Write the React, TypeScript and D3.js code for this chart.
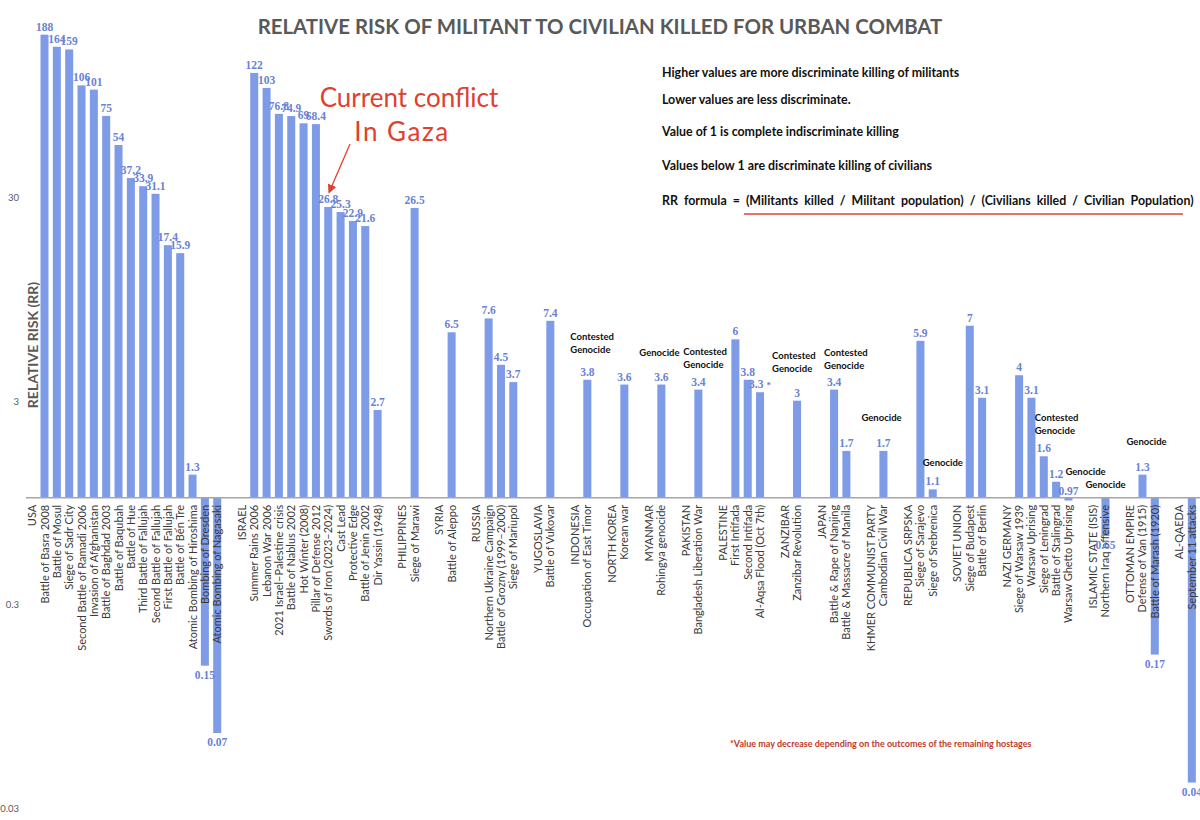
import React from 'react'
import * as d3 from 'd3'

// categories along the x axis: group headers (no bar), battles, and '' spacers
const categories = [
  'USA', 'Battle of Basra 2008', 'Battle of Mosul', 'Siege of Sadr City', 'Second Battle of Ramadi 2006',
  'Invasion of Afghanistan', 'Battle of Baghdad 2003', 'Battle of Baqubah', 'Battle of Hue',
  'Third Battle of Fallujah', 'Second Battle of Fallujah', 'First Battle of Fallujah', 'Battle of Bến Tre',
  'Atomic Bombing of Hiroshima', 'Bombing of Dresden', 'Atomic Bombing of Nagasaki',
  '',
  'ISRAEL', 'Summer Rains 2006', 'Lebanon War 2006', '2021 Israel–Palestine crisis', 'Battle of Nablus 2002',
  'Hot Winter (2008)', 'Pillar of Defense 2012', 'Swords of Iron (2023–2024)', 'Cast Lead', 'Protective Edge',
  'Battle of Jenin 2002', 'Dir Yassin (1948)',
  '',
  'PHILIPPINES', 'Siege of Marawi',
  '',
  'SYRIA', 'Battle of Aleppo',
  '',
  'RUSSIA', 'Northern Ukraine Campaign', 'Battle of Grozny (1999–2000)', 'Siege of Mariupol',
  '',
  'YUGOSLAVIA', 'Battle of Vukovar',
  '',
  'INDONESIA', 'Occupation of East Timor',
  '',
  'NORTH KOREA', 'Korean war',
  '',
  'MYANMAR', 'Rohingya genocide',
  '',
  'PAKISTAN', 'Bangladesh Liberation War',
  '',
  'PALESTINE', 'First Intifada', 'Second Intifada', 'Al-Aqsa Flood (Oct 7th)',
  '',
  'ZANZIBAR', 'Zanzibar Revolution',
  '',
  'JAPAN', 'Battle & Rape of Nanjing', 'Battle & Massacre of Manila',
  '',
  'KHMER COMMUNIST PARTY', 'Cambodian Civil War',
  '',
  'REPUBLICA SRPSKA', 'Siege of Sarajevo', 'Siege of Srebrenica',
  '',
  'SOVIET UNION', 'Siege of Budapest', 'Battle of Berlin',
  '',
  'NAZI GERMANY', 'Siege of Warsaw 1939', 'Warsaw Uprising', 'Siege of Leningrad', 'Battle of Stalingrad',
  'Warsaw Ghetto Uprising',
  '',
  'ISLAMIC STATE (ISIS)', 'Northern Iraq offensive',
  '',
  'OTTOMAN EMPIRE', 'Defense of Van (1915)', 'Battle of Marash (1920)',
  '',
  'AL-QAEDA', 'September 11 attacks',
]

// relative risk, same order as categories (null = no bar)
const rr: (number | null)[] = [
  null, 188, 164, 159, 106, 101, 75, 54, 37.2, 33.9, 31.1, 17.4, 15.9, 1.3, 0.15, 0.07,
  null,
  null, 122, 103, 76.8, 74.9, 69, 68.4, 26.8, 25.3, 22.9, 21.6, 2.7,
  null,
  null, 26.5,
  null,
  null, 6.5,
  null,
  null, 7.6, 4.5, 3.7,
  null,
  null, 7.4,
  null,
  null, 3.8,
  null,
  null, 3.6,
  null,
  null, 3.6,
  null,
  null, 3.4,
  null,
  null, 6, 3.8, 3.3,
  null,
  null, 3,
  null,
  null, 3.4, 1.7,
  null,
  null, 1.7,
  null,
  null, 5.9, 1.1,
  null,
  null, 7, 3.1,
  null,
  null, 4, 3.1, 1.6, 1.2, 0.97,
  null,
  null, 0.65,
  null,
  null, 1.3, 0.17,
  null,
  null, 0.04,
]

const starred = ['Al-Aqsa Flood (Oct 7th)']
const yTicks = [30, 3, 0.3, 0.03]

const notes = [
  { at: 'Occupation of East Timor', lines: ['Contested', 'Genocide'], dx: -17, y: 336 },
  { at: 'Rohingya genocide', lines: ['Genocide'], dx: -22, y: 352 },
  { at: 'Bangladesh Liberation War', lines: ['Contested', 'Genocide'], dx: -15, y: 351 },
  { at: 'Zanzibar Revolution', lines: ['Contested', 'Genocide'], dx: -25, y: 355 },
  { at: 'Battle & Rape of Nanjing', lines: ['Contested', 'Genocide'], dx: -10, y: 352 },
  { at: 'Cambodian Civil War', lines: ['Genocide'], dx: -22, y: 417 },
  { at: 'Siege of Srebrenica', lines: ['Genocide'], dx: -10, y: 462 },
  { at: 'Siege of Leningrad', lines: ['Contested', 'Genocide'], dx: -9, y: 417 },
  { at: 'Warsaw Ghetto Uprising', lines: ['Genocide'], dx: -3, y: 471 },
  { at: 'Northern Iraq offensive', lines: ['Genocide'], dx: -20, y: 484 },
  { at: 'Defense of Van (1915)', lines: ['Genocide'], dx: -16, y: 441 },
]

const explain = [
  'Higher values are more discriminate killing of militants',
  'Lower values are less discriminate.',
  'Value of 1 is complete indiscriminate killing',
  'Values below 1 are discriminate killing of civilians',
]

const W = 1200
const H = 820
const BAR = '#7d9be6'
const VAL = '#6a82d4'
const SANS = 'Lato, "Open Sans", sans-serif'

export default function App() {
  const x = d3.scaleBand<number>()
    .domain(d3.range(categories.length))
    .range([26, 1198])
    .paddingInner(0.35)
    .paddingOuter(0.175)

  const y = d3.scaleLog().domain([0.03, 30]).range([808, 197])
  const y1 = y(1)
  const cx = (name: string) => x(categories.indexOf(name))! + x.bandwidth() / 2

  const gazaX = cx('Swords of Iron (2023–2024)')
  const gazaY = y(26.8)

  return (
    <svg width={W} height={H} style={{ position: 'absolute', left: 0, top: 0, background: '#fff' }}>
      <defs>
        <marker id="arr" viewBox="0 0 10 10" refX="8" refY="5" markerWidth="7" markerHeight="7" orient="auto">
          <path d="M0,0 L10,5 L0,10 z" fill="#e0412e" />
        </marker>
      </defs>

      <text x={600} y={34} textAnchor="middle" fontFamily={SANS} fontWeight="bold" fontSize={20.4} fill="#595959">
        RELATIVE RISK OF MILITANT TO CIVILIAN KILLED FOR URBAN COMBAT
      </text>

      {/* y ticks */}
      {yTicks.map(t => (
        <text key={t} x={19} y={y(t) + 4} textAnchor="end" fontFamily={SANS} fontSize={9.5} fill="#595959">{t}</text>
      ))}
      <text transform={`translate(38, 345) rotate(-90)`} textAnchor="middle" fontFamily={SANS}
        fontWeight="bold" fontSize={14} fill="#595959">RELATIVE RISK (RR)</text>

      {/* bars */}
      {rr.map((v, i) => v == null ? null : (
        <rect key={i} x={x(i)} width={x.bandwidth()}
          y={Math.min(y(v), y1)} height={Math.abs(y(v) - y1)} fill={BAR} />
      ))}

      <line x1={26} x2={W} y1={y1} y2={y1} stroke="#a6a6a6" strokeWidth={1.5} />

      {/* category labels */}
      {categories.map((c, i) => c === '' ? null : (
        <text key={i} transform={`translate(${x(i)! + x.bandwidth() / 2 + 4}, ${y1 + 7}) rotate(-90)`}
          textAnchor="end" fontFamily={SANS} fontSize={11} fill="#3a3a3a">{c}</text>
      ))}

      {/* value labels */}
      {rr.map((v, i) => {
        if (v == null) return null
        const cxi = x(i)! + x.bandwidth() / 2
        let ly = v >= 1 ? y(v) - 4 : y(v) + 13
        if (v < 1 && y(v) - y1 < 8) ly = y1 - 3
        const star = starred.includes(categories[i])
        return (
          <text key={i} x={cxi} y={ly} textAnchor="middle" fontFamily='"Liberation Serif", serif'
            fontSize={11.5} fontWeight="bold" fill={VAL}>
            {String(v)}{star && <tspan dx={3} fontSize={9}>*</tspan>}
          </text>
        )
      })}

      {/* genocide notes */}
      {notes.map((n, i) => (
        <text key={i} x={cx(n.at) + n.dx} y={n.y + 4} fontFamily={SANS} fontWeight="bold" fontSize={9.5} fill="#111">
          {n.lines.map((l, j) => <tspan key={j} x={cx(n.at) + n.dx} dy={j === 0 ? 0 : 12.5}>{l}</tspan>)}
        </text>
      ))}

      {/* gaza callout */}
      <text x={409} y={107} textAnchor="middle" fontFamily={SANS} fontSize={26} fill="#e0412e">Current conflict</text>
      <text x={402} y={141} textAnchor="middle" fontFamily={SANS} fontSize={26} letterSpacing={1.5} fill="#e0412e">In Gaza</text>
      <line x1={350} y1={144} x2={gazaX + 1} y2={gazaY - 15} stroke="#e0412e" strokeWidth={1.3} markerEnd="url(#arr)" />

      {/* explanation block */}
      {explain.map((t, i) => (
        <text key={i} x={662} y={[77, 104, 136, 170][i]} fontFamily={SANS} fontWeight="bold" fontSize={12.4} fill="#111">{t}</text>
      ))}
      <text x={662} y={205} fontFamily={SANS} fontWeight="bold" fontSize={12.4} wordSpacing={3} fill="#111">
        RR formula = (Militants killed / Militant population) / (Civilians killed / Civilian Population)
      </text>
      <line x1={744} x2={1183} y1={214} y2={214} stroke="#d9472f" strokeWidth={1.6} />

      <text x={730} y={747} fontFamily={SANS} fontSize={9} fontWeight="bold" fill="#c0392b">
        *Value may decrease depending on the outcomes of the remaining hostages
      </text>
    </svg>
  )
}
